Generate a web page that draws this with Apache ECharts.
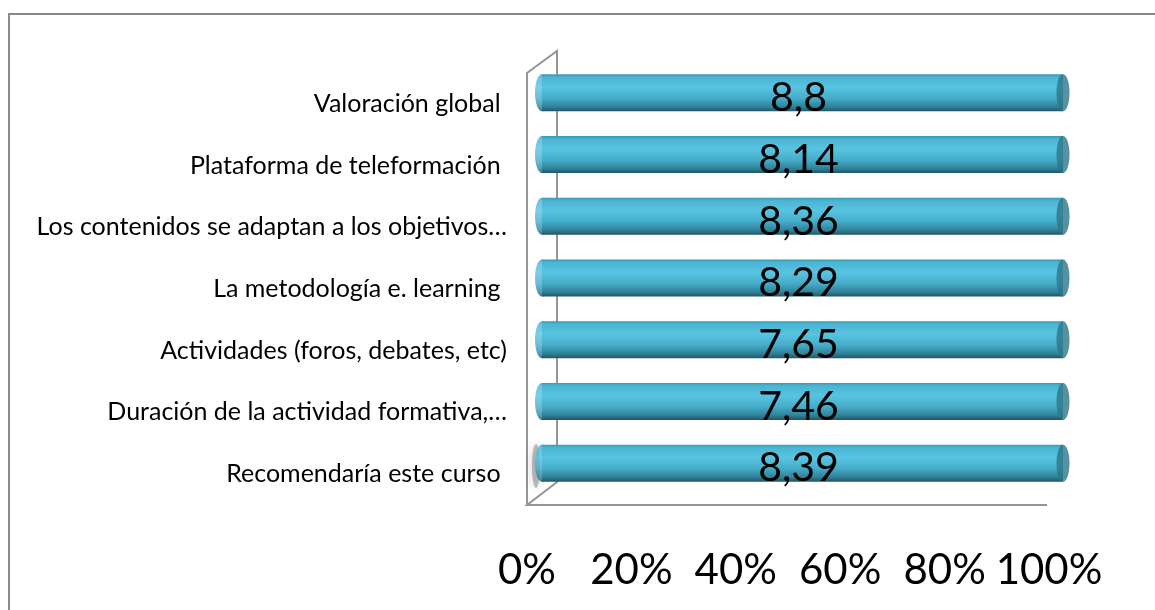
<!DOCTYPE html>
<html>
<head>
<meta charset="utf-8">
<style>
  html, body { margin: 0; padding: 0; background: #fff; }
  #chartBox { width: 1155px; height: 610px; }
</style>
<script src="https://cdn.jsdelivr.net/npm/echarts@6/dist/echarts.min.js"></script>
</head>
<body>
<div id="chartBox"></div>
<script>
// datos (de arriba hacia abajo)
var categories = [
    'Valoración global ',
    'Plataforma de teleformación ',
    'Los contenidos se adaptan a los objetivos…',
    'La metodología e. learning ',
    'Actividades (foros, debates, etc)',
    'Duración de la actividad formativa,…',
    'Recomendaría este curso '
];
var values = [8.8, 8.14, 8.36, 8.29, 7.65, 7.46, 8.39];
var tickLabels = ['0%', '20%', '40%', '60%', '80%', '100%'];

// barra 100% apilada: una sola serie, cada barra es su propio total
var totals = values.slice();
var shares = values.map(function (v, i) { return v / totals[i] * 100; });
var zeros = values.map(function () { return 0; });

var chart = echarts.init(document.getElementById('chartBox'));

var FONT = 'Lato, "Open Sans", sans-serif';
var ellipse = 'path://M0,50 C0,22 22,0 50,0 C78,0 100,22 100,50 C100,78 78,100 50,100 C22,100 0,78 0,50 Z';

// cilindro: degradado vertical
var tubeColor = new echarts.graphic.LinearGradient(0, 0, 0, 1, [
    { offset: 0, color: '#3a98b1' },
    { offset: 0.08, color: '#4bb5d3' },
    { offset: 0.35, color: '#58c4e2' },
    { offset: 0.65, color: '#45acc8' },
    { offset: 0.88, color: '#2f8198' },
    { offset: 1, color: '#1f5566' }
]);

var option = {
    animation: false,
    textStyle: { fontFamily: FONT },
    grid: [
        { left: 542, right: 92, top: 62, bottom: 116 },   // plano de las barras
        { left: 527, right: 106, top: 73, bottom: 105 }   // plano frontal (ejes)
    ],
    xAxis: [
        { gridIndex: 0, type: 'value', min: 0, max: 100, show: false },
        {
            gridIndex: 1, type: 'value', min: 0, max: 100, interval: 20,
            axisLine: { show: false }, axisTick: { show: false }, splitLine: { show: false },
            axisLabel: {
                margin: 44, fontSize: 42, color: '#000', fontFamily: FONT,
                formatter: function (v) { return tickLabels[v / 20]; }
            }
        }
    ],
    yAxis: [
        { gridIndex: 0, type: 'category', inverse: true, data: categories, show: false },
        {
            gridIndex: 1, type: 'category', inverse: true, data: categories,
            axisLine: { show: false }, axisTick: { show: false },
            axisLabel: { margin: 20, fontSize: 25, color: '#000', fontFamily: FONT }
        }
    ],
    graphic: [
        { type: 'rect', z: 0, shape: { x: 9, y: 14, width: 1300, height: 800 },
          style: { fill: 'none', stroke: '#8a8a8a', lineWidth: 2 } },
        { type: 'polyline', z: 0, shape: { points: [[527, 505], [527, 73], [557, 51], [557, 482], [527, 505], [1047, 505]] },
          style: { fill: 'none', stroke: '#959595', lineWidth: 2 } },
        { type: 'ellipse', z: 0, shape: { cx: 536, cy: 466, rx: 4, ry: 22 },
          style: { fill: 'rgba(110,110,110,0.45)', shadowBlur: 10, shadowColor: 'rgba(0,0,0,0.45)' } }
    ],
    series: [
        {   // tapa izquierda
            type: 'scatter', xAxisIndex: 0, yAxisIndex: 0,
            data: zeros, symbol: ellipse, symbolSize: [14, 37],
            itemStyle: { color: tubeColor }, silent: true
        },
        {
            name: 'Valoración', type: 'bar', xAxisIndex: 0, yAxisIndex: 0,
            data: shares, barWidth: 37,
            itemStyle: { color: tubeColor },
            label: {
                show: true, position: 'inside', color: '#000', fontSize: 41,
                fontFamily: FONT, offset: [-4, 5],
                formatter: function (p) { return String(values[p.dataIndex]).replace('.', ','); }
            }
        },
        {   // tapa derecha
            type: 'scatter', xAxisIndex: 0, yAxisIndex: 0,
            data: shares, symbol: ellipse, symbolSize: [13, 37],
            itemStyle: { color: '#2d7587' }, silent: true
        }
    ]
};

chart.setOption(option, true);
window.addEventListener('resize', function () {
    chart.resize();
});
</script>
</body>
</html>
